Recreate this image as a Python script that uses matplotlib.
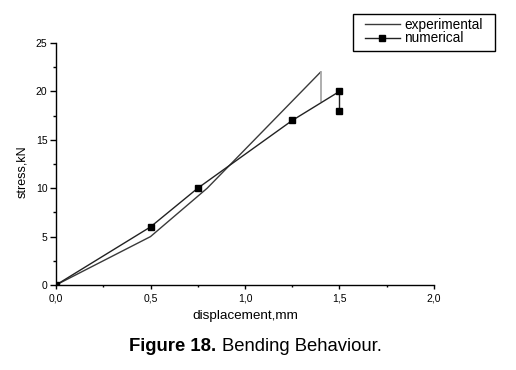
import matplotlib
matplotlib.use("Agg")
import matplotlib.pyplot as plt
from matplotlib.patches import Rectangle
from matplotlib.ticker import FixedLocator, FixedFormatter, MultipleLocator

plt.rcParams['font.family'] = ['Liberation Sans', 'DejaVu Sans']

exp_x = [0.0, 0.5, 0.8, 1.4]
exp_y = [0.0, 5.0, 10.0, 22.0]
exp_drop_x = [1.4, 1.4]
exp_drop_y = [22.0, 19.0]

num_x = [0.0, 0.5, 0.75, 1.25, 1.5, 1.5]
num_y = [0.0, 6.0, 10.0, 17.0, 20.0, 18.0]

xticks = [0.0, 0.5, 1.0, 1.5, 2.0]
xticklabels = ["0,0", "0,5", "1,0", "1,5", "2,0"]
yticks = [0, 5, 10, 15, 20, 25]
yticklabels = ["0", "5", "10", "15", "20", "25"]

W, H = 516, 370
fig = plt.figure(figsize=(W / 100, H / 100), dpi=100)
ax = fig.add_axes([56 / W, 1 - 285 / H, (434 - 56) / W, (285 - 43) / H])

l1, = ax.plot(exp_x, exp_y, color='#3a3a3a', lw=1.0, label='experimental')
ax.plot(exp_drop_x, exp_drop_y, color='#a8a8a8', lw=1.3)
l2, = ax.plot(num_x, num_y, color='#222222', lw=1.0, marker='s', ms=4.8,
              mfc='black', mec='black', label='numerical')

ax.set_xlim(0, 2)
ax.set_ylim(0, 25)
ax.xaxis.set_major_locator(FixedLocator(xticks))
ax.xaxis.set_major_formatter(FixedFormatter(xticklabels))
ax.yaxis.set_major_locator(FixedLocator(yticks))
ax.yaxis.set_major_formatter(FixedFormatter(yticklabels))
ax.xaxis.set_minor_locator(MultipleLocator(0.25))
ax.yaxis.set_minor_locator(MultipleLocator(2.5))
ax.tick_params(which='both', direction='out', labelsize=7.5, width=1.0)
ax.tick_params(axis='x', which='major', length=2.8, pad=3)
ax.tick_params(axis='x', which='minor', length=1.6)
ax.tick_params(axis='y', which='major', length=4.2, pad=2)
ax.tick_params(axis='y', which='minor', length=2.4)
ax.spines['top'].set_visible(False)
ax.spines['right'].set_visible(False)
for s in ['left', 'bottom']:
    ax.spines[s].set_linewidth(1.0)

ax.set_xlabel('displacement,mm', fontsize=9.7, labelpad=5)
ax.set_ylabel('stress,kN', fontsize=9, labelpad=5)
ax.yaxis.set_label_coords(-0.074, 0.47)

fig.patches.append(Rectangle((353 / W, 1 - 50.5 / H), (495 - 353) / W, (50.5 - 14.3) / H,
                             transform=fig.transFigure, fill=False,
                             edgecolor='black', lw=1.0))
leg = fig.legend(handles=[l1, l2], loc='upper left',
                 bbox_to_anchor=(365 / W, 1 - 17.5 / H),
                 frameon=False, fontsize=9.8, handlelength=2.55,
                 handletextpad=0.35, borderpad=0, labelspacing=0.0,
                 borderaxespad=0)

fig.text(216 / W, 0.064, 'Figure 18.', fontsize=13.3, fontweight='bold', ha='right', va='center')
fig.text(222 / W, 0.064, 'Bending Behaviour.', fontsize=13.3, ha='left', va='center')

fig.savefig('out.png', dpi=100)
